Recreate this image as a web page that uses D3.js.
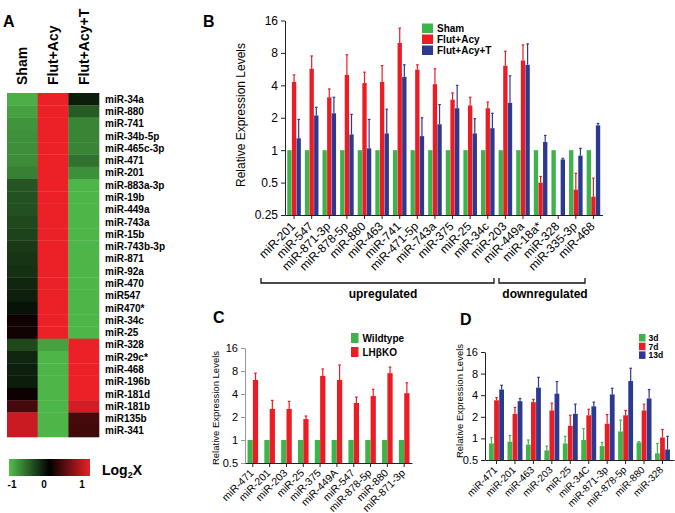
<!DOCTYPE html>
<html><head><meta charset="utf-8">
<script src="https://cdn.jsdelivr.net/npm/d3@7"></script>
<style>body{margin:0;background:#fff} svg{font-family:"Liberation Sans",Arial,sans-serif}</style>
</head><body><svg id="c" width="675" height="513"></svg>
<script>
// ---------- Panel A data (heatmap, log2 fold) ----------
const heatRows = ["miR-34a","miR-880","miR-741","miR-34b-5p","miR-465c-3p","miR-471","miR-201","miR-883a-3p","miR-19b","miR-449a","miR-743a","miR-15b","miR-743b-3p","miR-871","miR-92a","miR-470","miR547","miR470*","miR-34c","miR-25","miR-328","miR-29c*","miR-468","miR-196b","miR-181d","miR-181b","miR135b","miR-341"];
const heatCols = ["Sham","Flut+Acy","Flut+Acy+T"];
const heatSham = [-0.92,-0.85,-0.78,-0.76,-0.75,-0.74,-0.68,-0.45,-0.43,-0.42,-0.38,-0.35,-0.3,-0.28,-0.25,-0.2,-0.17,-0.1,0.06,0.07,-0.38,-0.2,-0.17,-0.15,0.05,0.3,0.85,0.85];
const heatFlutAcy = [1,1,1,1,1,1,1,1,1,1,1,1,1,1,1,1,1,1,1,1,-0.85,-0.95,-0.95,-0.95,-0.95,-0.95,-0.95,-0.95];
const heatFlutAcyT = [-0.15,-0.48,-0.7,-0.7,-0.7,-0.6,-0.75,-0.95,-0.95,-0.95,-0.95,-0.95,-0.95,-0.95,-0.95,-0.95,-0.95,-0.95,-0.95,-0.95,1,1,1,1,1,0.9,0.3,0.28];
const heatLegendTicks = [-1,0,1];

// ---------- Panel B data ----------
const bCats = ["miR-201","miR-547","miR-871-3p","miR-878-5p","miR-880","miR-463","miR-741","miR-471-5p","miR-743a","miR-375","miR-25","miR-34c","miR-203","miR-449a","miR-18a*","miR-328","miR-335-3p","miR-468"];
const bSham = [1,1,1,1,1,1,1,1,1,1,1,1,1,1,1,1,1,1];
const bFlutAcy = [4.3,5.7,3.1,5.0,4.2,4.3,9.9,5.6,4.1,2.95,2.6,2.45,6.1,6.8,0.50,null,0.43,0.37];
const bFlutAcyErr = [5.0,7.5,3.7,7.7,5.3,6.1,13.6,6.2,5.7,3.4,3.1,2.8,8.3,9.5,0.57,null,0.61,0.55];
const bFlutAcyT = [1.29,2.1,2.2,1.4,1.04,1.43,4.8,1.35,1.74,2.45,1.43,1.6,2.75,6.2,1.19,0.82,0.89,1.7];
const bFlutAcyTErr = [1.93,2.5,3.1,2.15,1.93,2.4,6.2,2.0,2.65,4.0,1.96,2.2,4.9,9.7,1.37,0.84,1.04,1.77];
const bTicks = [0.25,0.5,1,2,4,8,16];
const bTickLabels = ["0.25","0.5","1","2","4","8","16"];

// ---------- Panel C data ----------
const cCats = ["miR-471","miR-201","miR-203","miR-25","miR-375","miR-449A","miR-547","miR-878-5p","miR-880","miR-871-3p"];
const cWildtype = [1,1,1,1,1,1,1,1,1,1];
const cKO = [6.1,2.55,2.55,1.88,6.9,6.1,3.05,3.76,7.5,4.1];
const cKOErr = [7.5,3.3,3.2,2.06,8.5,9.6,3.65,4.6,9.0,5.6];
const cTicks = [0.5,1,2,4,8,16];
const cTickLabels = ["0.5","1","2","4","8","16"];

// ---------- Panel D data ----------
const dCats = ["miR-471","miR-201","miR-463","miR-203","miR-25","miR-34C","miR-871-3p","miR-878-5p","miR-880","miR-328"];
const d3d = [0.85,0.9,0.82,0.68,0.85,0.95,0.78,1.25,0.88,0.62];
const d3dErr = [1.03,1.1,0.95,0.78,1.07,1.37,0.88,1.8,0.9,0.85];
const d7d = [3.4,2.2,3.2,2.45,1.5,2.1,1.6,2.1,2.45,1.03];
const d7dErr = [3.7,2.7,3.5,3.1,2.1,2.55,2.15,2.45,3.0,1.33];
const d13d = [4.8,3.3,5.1,4.2,2.2,2.8,4.1,6.3,3.6,0.7];
const d13dErr = [5.5,3.6,7.1,6.2,3.0,3.2,5.0,9.5,4.8,1.07];
const dTicks = [0.5,1,2,4,8,16];
const dTickLabels = ["0.5","1","2","4","8","16"];

const GREEN = "#3cb44a", RED = "#ec1c24", BLUE = "#2b3990";
const svg = d3.select("#c");

// ================= Panel A =================
const heatColor = d3.scaleLinear().domain([-1,0,1]).range(["#52be4c","#000000","#ec2027"]);
const hx = d3.scaleBand().domain(heatCols).range([7,99]);
const hy = d3.scaleBand().domain(heatRows).range([93,437]);
const heatData = [heatSham, heatFlutAcy, heatFlutAcyT];
heatCols.forEach((col, ci) => {
  svg.append("g").selectAll("rect").data(heatRows).join("rect")
    .attr("x", hx(col)).attr("y", d => hy(d))
    .attr("width", hx.bandwidth()+0.3).attr("height", hy.bandwidth()+0.3)
    .attr("fill", (d,i) => heatColor(heatData[ci][i]));
  svg.append("text").attr("transform", `translate(${hx(col)+hx.bandwidth()/2+5},85) rotate(-90)`)
    .attr("font-size", 14).attr("font-weight", "bold").text(col);
});
svg.append("g").selectAll("text").data(heatRows).join("text")
  .attr("x", 105).attr("y", d => hy(d)+hy.bandwidth()/2+3.6)
  .attr("font-size", 10).attr("font-weight", "bold").text(d => d);

// colour legend
const defs = svg.append("defs");
const grad = defs.append("linearGradient").attr("id","hg").attr("x1","0%").attr("x2","100%");
[-1,-0.5,0,0.5,1].forEach(v => grad.append("stop").attr("offset", ((v+1)/2*100)+"%").attr("stop-color", heatColor(v)));
const lx = d3.scaleLinear().domain([-1,1]).range([12,82]);
svg.append("rect").attr("x",9).attr("y",459).attr("width",81).attr("height",17).attr("fill","url(#hg)");
svg.append("g").selectAll("text").data(heatLegendTicks).join("text")
  .attr("x", d => lx(d) - (d===0?3:0)).attr("y", 488).attr("text-anchor","middle")
  .attr("font-size", 10).attr("font-weight","bold").text(d => d);
const lg = svg.append("text").attr("x",102).attr("y",475).attr("font-size",14).attr("font-weight","bold");
lg.append("tspan").text("Log");
lg.append("tspan").attr("font-size",9).attr("dy",3).text("2");
lg.append("tspan").attr("dy",-3).text("X");

// ================= generic bar panel =================
function barPanel(o) {
  const g = svg.append("g");
  const y = d3.scaleLog().base(2).domain(o.domain).range(o.yRange);
  const xb = d3.scaleBand().domain(o.cats).range(o.xRange).paddingInner(o.pi).paddingOuter(o.po);
  const xs = d3.scaleBand().domain(o.series.map(s => s.name)).range([0, xb.bandwidth()]).paddingInner(o.si);
  const base = o.yRange[0];
  o.series.forEach(s => {
    const data = o.cats.map((c,i) => ({c, v: s.values[i], e: s.err ? s.err[i] : null})).filter(d => d.v != null);
    g.append("g").selectAll("rect").data(data).join("rect")
      .attr("x", d => xb(d.c) + xs(s.name)).attr("width", xs.bandwidth())
      .attr("y", d => y(d.v)).attr("height", d => base - y(d.v)).attr("fill", s.color);
    const eb = data.filter(d => d.e != null && d.e > d.v);
    const eg = g.append("g").attr("stroke", s.color).attr("stroke-width", 1.2);
    eg.selectAll("line.v").data(eb).join("line").attr("class","v")
      .attr("x1", d => xb(d.c)+xs(s.name)+xs.bandwidth()/2).attr("x2", d => xb(d.c)+xs(s.name)+xs.bandwidth()/2)
      .attr("y1", d => y(d.v)).attr("y2", d => y(d.e));
    eg.selectAll("line.h").data(eb).join("line").attr("class","h")
      .attr("x1", d => xb(d.c)+xs(s.name)+xs.bandwidth()/2-1.3).attr("x2", d => xb(d.c)+xs(s.name)+xs.bandwidth()/2+1.3)
      .attr("y1", d => y(d.e)).attr("y2", d => y(d.e));
  });
  const ya = g.append("g").attr("transform", `translate(${o.xRange[0]},0)`)
    .call(d3.axisLeft(y).tickValues(o.ticks).tickFormat((d,i) => o.tickLabels[i]).tickSize(4).tickSizeOuter(0));
  ya.selectAll("text").attr("font-size", o.tickFont).attr("font-family","inherit").attr("fill","#000");
  ya.selectAll("line,path").attr("stroke", o.yAxisColor || "#222");
  const xa = g.append("g").attr("transform", `translate(0,${base})`)
    .call(d3.axisBottom(xb).tickSize(4).tickSizeOuter(0));
  xa.selectAll("line,path").attr("stroke","#222");
  xa.selectAll("text").attr("font-size", o.labelFont).attr("font-family","inherit").attr("fill","#000")
    .attr("x",0).attr("y",0).attr("dy","0.35em").style("text-anchor","end")
    .attr("transform", `translate(${o.labelDx},${o.labelDy}) rotate(-45)`);
  // y title
  g.append("text").attr("transform", `translate(${o.titleX},${o.titleY}) rotate(-90)`)
    .attr("text-anchor","middle").attr("font-size", o.titleFont).text("Relative Expression Levels");
  // legend
  o.series.forEach((s,i) => {
    g.append("rect").attr("x", o.leg.x).attr("y", o.leg.y + i*o.leg.dy).attr("width", o.leg.w).attr("height", o.leg.h).attr("fill", s.color);
    g.append("text").attr("x", o.leg.x + o.leg.w + o.leg.gap).attr("y", o.leg.y + i*o.leg.dy + o.leg.h/2 + o.leg.font*0.36)
      .attr("font-size", o.leg.font).attr("font-weight","bold").text(s.name);
  });
  return {xb, y};
}

// ================= Panel B =================
barPanel({
  cats: bCats,
  series: [
    {name:"Sham", color:GREEN, values:bSham},
    {name:"Flut+Acy", color:RED, values:bFlutAcy, err:bFlutAcyErr},
    {name:"Flut+Acy+T", color:BLUE, values:bFlutAcyT, err:bFlutAcyTErr}
  ],
  domain:[0.25,16], yRange:[215,20.5], xRange:[285,602.5], pi:0.23, po:0.13, si:0.06,
  ticks:bTicks, tickLabels:bTickLabels, tickFont:12, labelFont:12, labelDx:-1, labelDy:9,
  titleX:245, titleY:115, titleFont:12,
  leg:{x:422, y:23.5, dy:11, w:11, h:9.5, gap:4, font:10}
});
const br = svg.append("g").attr("fill","none").attr("stroke","#111").attr("stroke-width",1.3);
br.append("path").attr("d","M261,278V283H494V278");
br.append("path").attr("d","M499,278V283H585V278");
svg.append("text").attr("x",383).attr("y",298).attr("text-anchor","middle").attr("font-size",12).attr("font-weight","bold").text("upregulated");
svg.append("text").attr("x",545).attr("y",298).attr("text-anchor","middle").attr("font-size",12).attr("font-weight","bold").text("downregulated");

// ================= Panel C =================
barPanel({
  cats: cCats,
  series: [
    {name:"Wildtype", color:GREEN, values:cWildtype},
    {name:"LH\u03B2KO", color:RED, values:cKO, err:cKOErr}
  ],
  domain:[0.5,16], yRange:[463,348], xRange:[245,412], pi:0.37, po:0.15, si:0.02,
  ticks:cTicks, tickLabels:cTickLabels, tickFont:11, labelFont:10.5, labelDx:-1, labelDy:8,
  titleX:219, titleY:408, titleFont:9.5, yAxisColor:"#999",
  leg:{x:351, y:333, dy:14, w:7.5, h:10, gap:4, font:10}
});

// ================= Panel D =================
barPanel({
  cats: dCats,
  series: [
    {name:"3d", color:GREEN, values:d3d, err:d3dErr},
    {name:"7d", color:RED, values:d7d, err:d7dErr},
    {name:"13d", color:BLUE, values:d13d, err:d13dErr}
  ],
  domain:[0.5,16], yRange:[460,352], xRange:[485,674], pi:0.19, po:0.22, si:0.06,
  ticks:dTicks, tickLabels:dTickLabels, tickFont:11, labelFont:10, labelDx:-1, labelDy:8,
  titleX:463, titleY:401, titleFont:9.5,
  leg:{x:639, y:334, dy:8.7, w:6.5, h:7.5, gap:3, font:8.5}
});

// panel letters
[["A",3,27],["B",203,27],["C",213,323],["D",460,325]].forEach(([t,x,y]) =>
  svg.append("text").attr("x",x).attr("y",y).attr("font-size",16).attr("font-weight","bold").text(t));
</script></body></html>
